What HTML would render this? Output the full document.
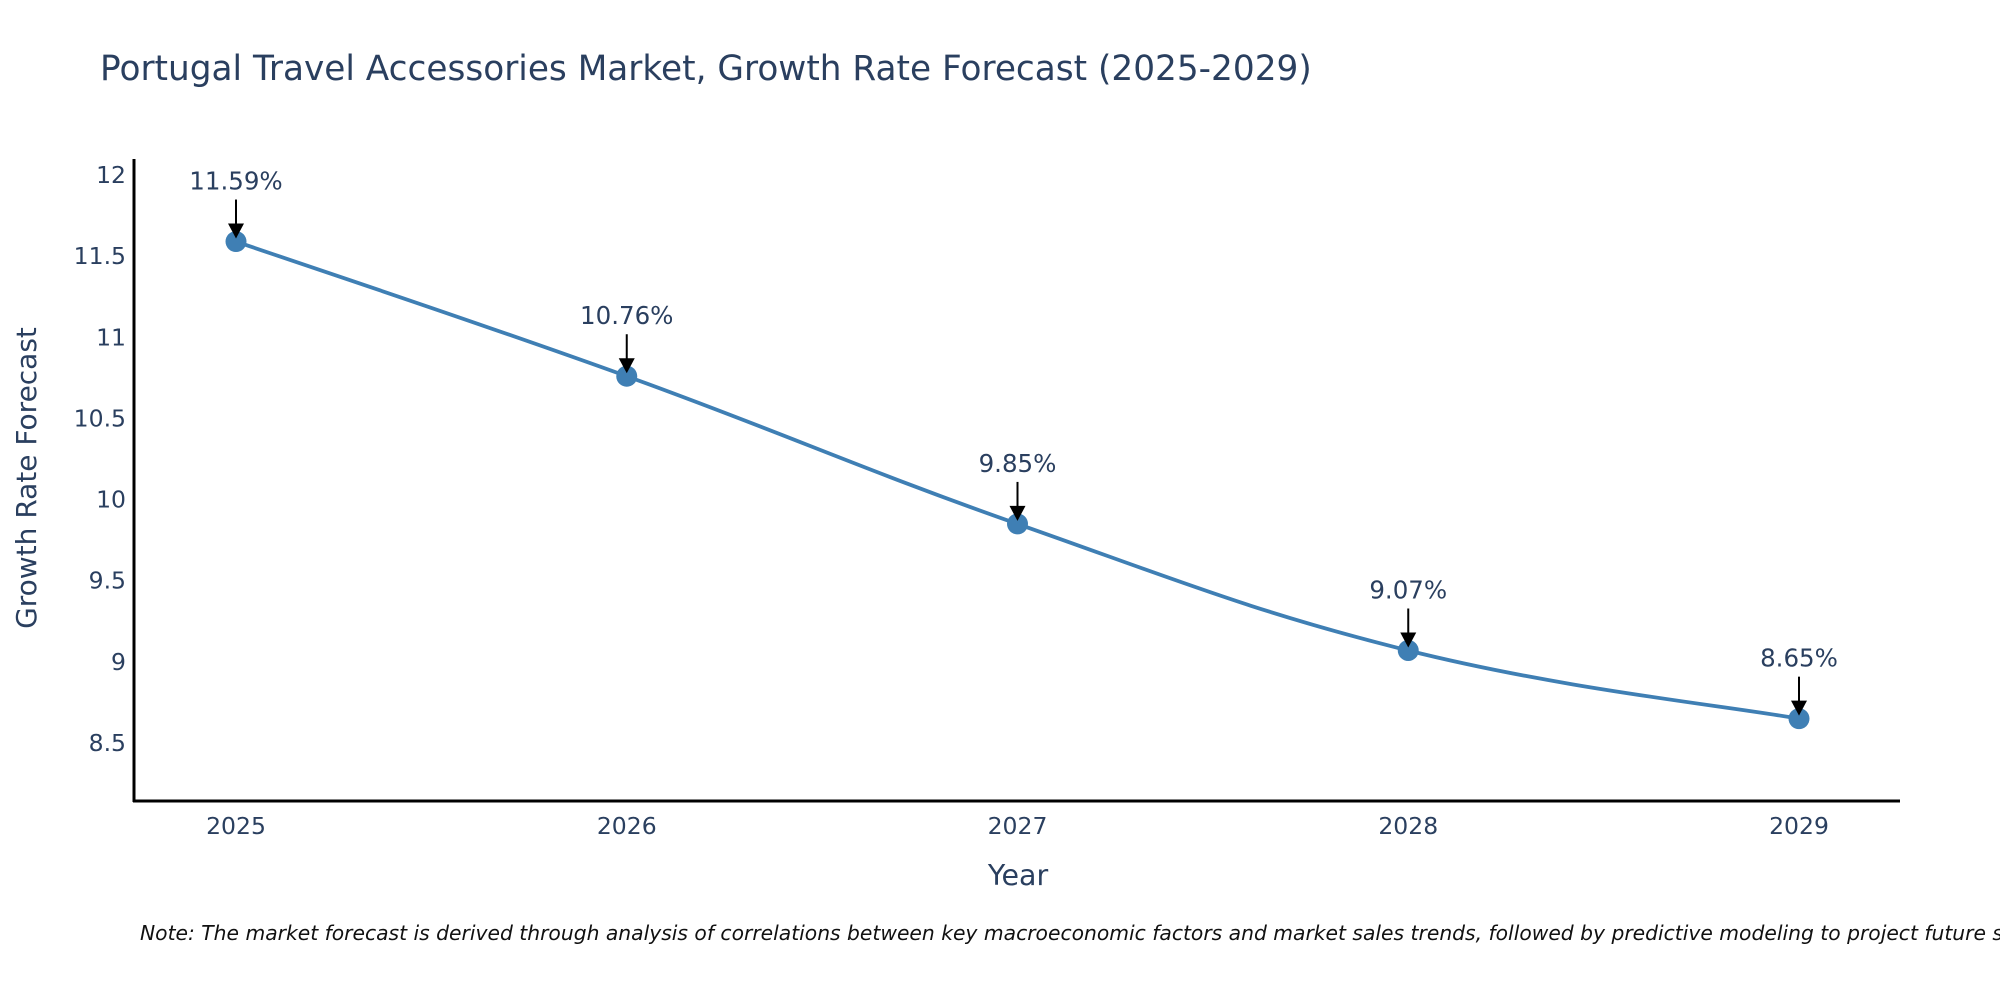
<!DOCTYPE html>
<html><head><meta charset="utf-8"><style>
html,body{margin:0;padding:0;background:#fff;}
svg{display:block;font-family:"DejaVu Sans","Liberation Sans",sans-serif;}
</style></head><body>
<svg id="chart" width="2000" height="1000" viewBox="0 0 2000 1000">
<text x="100" y="80" font-size="34.3" fill="#2a3f5f">Portugal Travel Accessories Market, Growth Rate Forecast (2025-2029)</text>
<g id="yticks"></g>
<g id="xticks"></g>
<line x1="134" y1="159" x2="134" y2="802" stroke="#000" stroke-width="3"/>
<line x1="133" y1="801" x2="1900" y2="801" stroke="#000" stroke-width="3"/>
<g id="series"></g>
<text x="36" y="478" font-size="28" fill="#2a3f5f" text-anchor="middle" transform="rotate(-90 36 478)">Growth Rate Forecast</text>
<text x="1018" y="885" font-size="28.5" fill="#2a3f5f" text-anchor="middle">Year</text>
<text x="140" y="940" font-size="20.3" font-style="italic" fill="#111">Note: The market forecast is derived through analysis of correlations between key macroeconomic factors and market sales trends, followed by predictive modeling to project future sales.</text>
</svg>
<script>
const years = ["2025","2026","2027","2028","2029"];
const values = [11.59, 10.76, 9.85, 9.07, 8.65];
const labels = ["11.59%","10.76%","9.85%","9.07%","8.65%"];
const yTicks = [8.5, 9, 9.5, 10, 10.5, 11, 11.5, 12];
const yTickLabels = ["8.5","9","9.5","10","10.5","11","11.5","12"];

const NS = "http://www.w3.org/2000/svg";
function xScale(i){ return 236 + i * (1799 - 236) / (years.length - 1); }
function yScale(v){ return 743 - (v - 8.5) * (743 - 175) / 3.5; }
function mk(tag, attrs, parent){ const e = document.createElementNS(NS, tag); for (const k in attrs) e.setAttribute(k, attrs[k]); parent.appendChild(e); return e; }

const yg = document.getElementById('yticks');
yTicks.forEach((v, i) => {
  const t = mk('text', {x:126, y:yScale(v)+8, 'font-size':23.5, fill:'#2a3f5f', 'text-anchor':'end'}, yg);
  t.textContent = yTickLabels[i];
  
  
});
const xg = document.getElementById('xticks');
years.forEach((yr, i) => {
  const t = mk('text', {x:xScale(i), y:834, 'font-size':23.5, fill:'#2a3f5f', 'text-anchor':'middle'}, xg);
  t.textContent = yr;
  
  
});

const sg = document.getElementById('series');
const pts = values.map((v, i) => [xScale(i), yScale(v)]);
let d = `M${pts[0][0]},${pts[0][1]}`;
const s = 0.2;
for (let i = 0; i < pts.length - 1; i++) {
  const p0 = pts[Math.max(i-1,0)], p1 = pts[i], p2 = pts[i+1], p3 = pts[Math.min(i+2, pts.length-1)];
  const c1 = [p1[0] + (p2[0]-p0[0])*s, p1[1] + (p2[1]-p0[1])*s];
  const c2 = [p2[0] - (p3[0]-p1[0])*s, p2[1] - (p3[1]-p1[1])*s];
  d += ` C${c1[0]},${c1[1]} ${c2[0]},${c2[1]} ${p2[0]},${p2[1]}`;
}
const line = mk('path', {d:d, fill:'none', stroke:'#3f7fb4', 'stroke-width':3.8}, sg);



pts.forEach((p, i) => {
  const c = mk('circle', {cx:p[0], cy:p[1], r:10.5, fill:'#3f7fb4'}, sg);
  
  
  const a = mk('line', {x1:p[0], y1:p[1]-42, x2:p[0], y2:p[1]-14, stroke:'#000', 'stroke-width':2}, sg);
  
  
  const h = mk('polygon', {points:`${p[0]-8},${p[1]-18} ${p[0]+8},${p[1]-18} ${p[0]},${p[1]-3}`, fill:'#000'}, sg);
  
  
  const t = mk('text', {x:p[0], y:p[1]-52, 'font-size':24.5, fill:'#2a3f5f', 'text-anchor':'middle'}, sg);
  t.textContent = labels[i];
  
  
});
</script>
</body></html>
